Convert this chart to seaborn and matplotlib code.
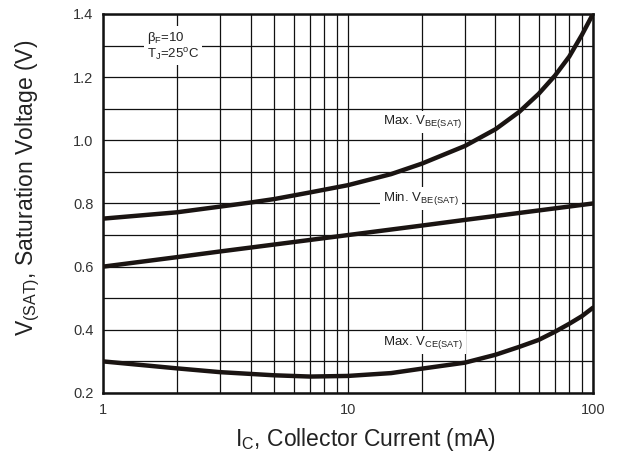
import matplotlib
matplotlib.use('Agg')
import matplotlib.pyplot as plt
from matplotlib.ticker import LogLocator, MultipleLocator, FixedLocator, NullFormatter
import seaborn as sns
import pandas as pd

ic_max_vbe = [1, 2, 3, 4, 5, 7, 10, 15, 20, 30, 40, 50, 60, 70, 80, 90, 100]
max_vbe = [0.752, 0.772, 0.79, 0.803, 0.814, 0.835, 0.858, 0.893, 0.926, 0.982, 1.035, 1.09, 1.147, 1.205, 1.265, 1.333, 1.4]

ic_min_vbe = [1, 2, 3, 5, 10, 20, 30, 50, 100]
min_vbe = [0.60, 0.63, 0.648, 0.67, 0.70, 0.73, 0.748, 0.77, 0.80]

ic_max_vce = [1, 2, 3, 5, 7, 10, 15, 20, 30, 40, 50, 60, 70, 80, 90, 100]
max_vce = [0.30, 0.278, 0.266, 0.256, 0.252, 0.254, 0.263, 0.277, 0.296, 0.321, 0.346, 0.368, 0.394, 0.419, 0.443, 0.47]

y_ticks = [0.2, 0.4, 0.6, 0.8, 1.0, 1.2, 1.4]
x_ticks = [1, 10, 100]

df = pd.concat([
    pd.DataFrame({'ic': ic_max_vbe, 'v': max_vbe, 'curve': 'max_vbe'}),
    pd.DataFrame({'ic': ic_min_vbe, 'v': min_vbe, 'curve': 'min_vbe'}),
    pd.DataFrame({'ic': ic_max_vce, 'v': max_vce, 'curve': 'max_vce'}),
])

sns.set_style('white')
plt.rcParams['font.family'] = ['Liberation Sans', 'DejaVu Sans']
plt.rcParams['mathtext.fontset'] = 'custom'
plt.rcParams['mathtext.rm'] = 'Liberation Sans'

fig = plt.figure(figsize=(6.18, 4.55), dpi=100)
ax = fig.add_axes([0.1667, 0.1363, 0.7928, 0.8330])

sns.lineplot(data=df, x='ic', y='v', units='curve', estimator=None, sort=False,
             color='#1a1412', linewidth=3.2, ax=ax, zorder=5)

ax.set_xscale('log')
ax.set_xlim(1, 100)
ax.set_ylim(0.2, 1.4)
ax.xaxis.set_major_locator(FixedLocator(x_ticks))
ax.xaxis.set_minor_locator(LogLocator(base=10, subs=range(2, 10)))
ax.xaxis.set_minor_formatter(NullFormatter())
ax.set_xticklabels([str(t) for t in x_ticks])
ax.yaxis.set_major_locator(FixedLocator(y_ticks))
ax.yaxis.set_minor_locator(MultipleLocator(0.1))
ax.set_yticklabels(['%.1f' % t for t in y_ticks])

ax.grid(True, which='both', color='#111111', linewidth=0.9)
ax.tick_params(which='both', length=0, labelsize=10.5, colors='#333333', pad=7)
for s in ax.spines.values():
    s.set_linewidth(1.8)
    s.set_color('#111111')

ax.set_xlabel(r'I$\mathregular{_C}$, Collector Current (mA)', fontsize=16.5, color='#222222')
ax.set_ylabel(r'V$\mathregular{_{(SAT)}}$, Saturation Voltage (V)', fontsize=16.5, color='#222222')
ax.xaxis.set_label_coords(0.535, -0.088)
ax.yaxis.set_label_coords(-0.125, 0.541)

box = dict(facecolor='white', edgecolor='none', pad=2)
ax.text(1.51, 1.298, r'$\mathregular{\beta_F}$=10' + '\n' + r'T$\mathregular{_J}$=25$\mathregular{^o}$C',
        fontsize=9.5, color='#222222', ha='left', va='center', linespacing=1.05, bbox=box, zorder=4)
ax.text(13.9, 1.058, r'Max. V$\mathregular{_{BE(SAT)}}$', fontsize=9.5, color='#222222',
        ha='left', va='center', bbox=box, zorder=4)
ax.text(13.9, 0.815, r'Min. V$\mathregular{_{BE(SAT)}}$', fontsize=9.5, color='#222222',
        ha='left', va='center', bbox=box, zorder=4)
ax.text(13.9, 0.359, r'Max. V$\mathregular{_{CE(SAT)}}$', fontsize=9.5, color='#222222',
        ha='left', va='center', bbox=box, zorder=4)

fig.savefig('out.png', dpi=100)
